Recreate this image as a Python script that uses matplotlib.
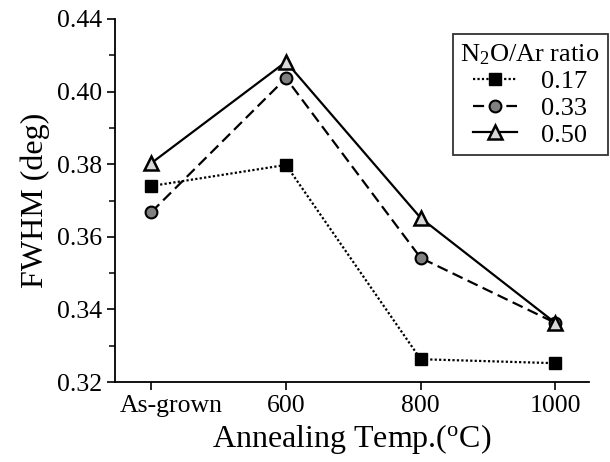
import matplotlib
matplotlib.use('Agg')
import matplotlib.pyplot as plt
import matplotlib.transforms as mtransforms
from matplotlib.ticker import FixedLocator, FixedFormatter, MultipleLocator

plt.rcParams['font.family'] = 'Liberation Serif'
plt.rcParams['mathtext.fontset'] = 'custom'
plt.rcParams['mathtext.rm'] = 'Liberation Serif'
plt.rcParams['mathtext.it'] = 'Liberation Serif'

# data
categories = ['As-grown', '600', '800', '1000']
ratio_017 = [0.374, 0.3798, 0.3263, 0.3252]
ratio_033 = [0.3668, 0.4037, 0.3542, 0.3363]
ratio_050 = [0.3803, 0.4082, 0.3652, 0.3363]
ytick_vals = [0.32, 0.34, 0.36, 0.38, 0.40, 0.42]
ytick_text = ['0.32', '0.34', '0.36', '0.38', '0.40', '0.44']  # as printed

x = list(range(len(categories)))

fig = plt.figure(figsize=(6.1, 4.62), dpi=100)
ax = fig.add_axes([0.1885, 0.173, 0.777, 0.786])

ax.plot(x, ratio_017, linestyle=(0, (1, 1)), color='black', lw=1.6,
        marker='s', ms=9, mfc='black', mec='black', label='0.17')
ax.plot(x, ratio_033, linestyle=(0, (5, 2.5)), color='black', lw=1.6,
        marker='o', ms=8.5, mfc='#808080', mec='black', mew=1.5, label='0.33')
ax.plot(x, ratio_050, linestyle='-', color='black', lw=1.6,
        marker='^', ms=10.5, mfc='#d8d8d8', mec='black', mew=1.8, label='0.50')

ax.set_xlim(-0.27, 3.25)
ax.set_ylim(0.32, 0.42)
ax.set_xticks(x)
ax.set_xticklabels(categories)
ax.yaxis.set_major_locator(FixedLocator(ytick_vals))
ax.yaxis.set_major_formatter(FixedFormatter(ytick_text))
ax.yaxis.set_minor_locator(MultipleLocator(0.01))

for s in ['top', 'right']:
    ax.spines[s].set_visible(False)
for s in ['left', 'bottom']:
    ax.spines[s].set_linewidth(1.3)

ax.tick_params(axis='both', which='major', direction='out', length=6, width=1.2,
               labelsize=18.5, pad=3)
ax.tick_params(axis='y', which='minor', direction='out', length=4, width=1.1)

# the first label sits a bit right of its tick in the original
lab0 = ax.get_xticklabels()[0]
lab0.set_transform(lab0.get_transform() +
                   mtransforms.ScaledTranslation(0.2, 0, fig.dpi_scale_trans))

ax.set_xlabel('Annealing Temp.($^{\\mathrm{o}}$C)', fontsize=23, labelpad=4)
ax.set_ylabel('FWHM (deg)', fontsize=23, labelpad=5)

leg = fig.legend(loc='upper right', bbox_to_anchor=(0.996, 0.926),
                 title='N$_2$O/Ar ratio', fontsize=19, title_fontsize=19,
                 frameon=True, fancybox=False, edgecolor='black',
                 handlelength=1.7, handletextpad=0.9, borderpad=0.3,
                 labelspacing=0.12, borderaxespad=0)
leg.get_frame().set_linewidth(1.3)

plt.savefig('out.png', dpi=100)
